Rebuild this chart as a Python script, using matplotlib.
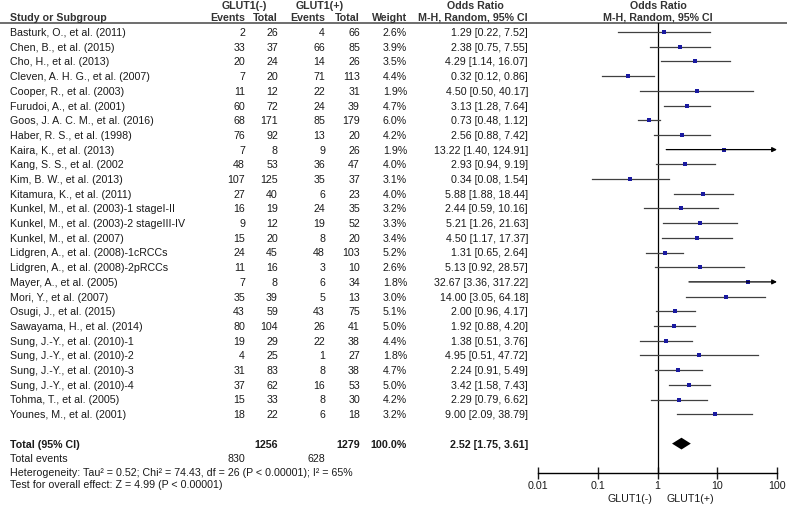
import numpy as np
import matplotlib.pyplot as plt

plt.rcParams["font.family"] = ["Liberation Sans", "DejaVu Sans"]
plt.rcParams["font.size"] = 7.7

studies = [
    "Basturk, O., et al. (2011)", "Chen, B., et al. (2015)", "Cho, H., et al. (2013)",
    "Cleven, A. H. G., et al. (2007)", "Cooper, R., et al. (2003)", "Furudoi, A., et al. (2001)",
    "Goos, J. A. C. M., et al. (2016)", "Haber, R. S., et al. (1998)", "Kaira, K., et al. (2013)",
    "Kang, S. S., et al. (2002", "Kim, B. W., et al. (2013)", "Kitamura, K., et al. (2011)",
    "Kunkel, M., et al. (2003)-1 stageI-II", "Kunkel, M., et al. (2003)-2 stageIII-IV",
    "Kunkel, M., et al. (2007)", "Lidgren, A., et al. (2008)-1cRCCs",
    "Lidgren, A., et al. (2008)-2pRCCs", "Mayer, A., et al. (2005)", "Mori, Y., et al. (2007)",
    "Osugi, J., et al. (2015)", "Sawayama, H., et al. (2014)", "Sung, J.-Y., et al. (2010)-1",
    "Sung, J.-Y., et al. (2010)-2", "Sung, J.-Y., et al. (2010)-3", "Sung, J.-Y., et al. (2010)-4",
    "Tohma, T., et al. (2005)", "Younes, M., et al. (2001)",
]
events_neg = [2, 33, 20, 7, 11, 60, 68, 76, 7, 48, 107, 27, 16, 9, 15, 24, 11, 7, 35, 43, 80, 19, 4, 31, 37, 15, 18]
total_neg = [26, 37, 24, 20, 12, 72, 171, 92, 8, 53, 125, 40, 19, 12, 20, 45, 16, 8, 39, 59, 104, 29, 25, 83, 62, 33, 22]
events_pos = [4, 66, 14, 71, 22, 24, 85, 13, 9, 36, 35, 6, 24, 19, 8, 48, 3, 6, 5, 43, 26, 22, 1, 8, 16, 8, 6]
total_pos = [66, 85, 26, 113, 31, 39, 179, 20, 26, 47, 37, 23, 35, 52, 20, 103, 10, 34, 13, 75, 41, 38, 27, 38, 53, 30, 18]
weights = [2.6, 3.9, 3.5, 4.4, 1.9, 4.7, 6.0, 4.2, 1.9, 4.0, 3.1, 4.0, 3.2, 3.3, 3.4, 5.2, 2.6, 1.8, 3.0, 5.1, 5.0, 4.4, 1.8, 4.7, 5.0, 4.2, 3.2]
odds = [1.29, 2.38, 4.29, 0.32, 4.50, 3.13, 0.73, 2.56, 13.22, 2.93, 0.34, 5.88, 2.44, 5.21, 4.50, 1.31, 5.13, 32.67, 14.00, 2.00, 1.92, 1.38, 4.95, 2.24, 3.42, 2.29, 9.00]
ci_low = [0.22, 0.75, 1.14, 0.12, 0.50, 1.28, 0.48, 0.88, 1.40, 0.94, 0.08, 1.88, 0.59, 1.26, 1.17, 0.65, 0.92, 3.36, 3.05, 0.96, 0.88, 0.51, 0.51, 0.91, 1.58, 0.79, 2.09]
ci_high = [7.52, 7.55, 16.07, 0.86, 40.17, 7.64, 1.12, 7.42, 124.91, 9.19, 1.54, 18.44, 10.16, 21.63, 17.37, 2.64, 28.57, 317.22, 64.18, 4.17, 4.20, 3.76, 47.72, 5.49, 7.43, 6.62, 38.79]

sum_total_neg, sum_total_pos = 1256, 1279
sum_events_neg, sum_events_pos = 830, 628
pooled_or, pooled_low, pooled_high = 2.52, 1.75, 3.61
ticks = [0.01, 0.1, 1, 10, 100]
tick_labels = ["0.01", "0.1", "1", "10", "100"]

W, H = 787, 506
y0, rh = 33, 14.7


def row(py):
    return (py - y0) / rh


fig = plt.figure(figsize=(W / 100, H / 100), dpi=100)
ax = fig.add_axes([0, 0, 1, 1])
ax.set_xlim(0, W)
ax.set_ylim(row(H), row(0))
ax.axis("off")

txt = "#1a1a1a"
hdr = dict(fontweight="bold", color="#333333", va="center")

# headers
ax.text(244, row(6), "GLUT1(-)", ha="center", **hdr)
ax.text(320, row(6), "GLUT1(+)", ha="center", **hdr)
ax.text(475, row(6), "Odds Ratio", ha="center", **hdr)
ax.text(658, row(6), "Odds Ratio", ha="center", **hdr)
ax.text(10, row(17.5), "Study or Subgroup", ha="left", **hdr)
ax.text(245, row(17.5), "Events", ha="right", **hdr)
ax.text(278, row(17.5), "Total", ha="right", **hdr)
ax.text(325, row(17.5), "Events", ha="right", **hdr)
ax.text(360, row(17.5), "Total", ha="right", **hdr)
ax.text(407, row(17.5), "Weight", ha="right", **hdr)
ax.text(528, row(17.5), "M-H, Random, 95% CI", ha="right", **hdr)
ax.text(658, row(17.5), "M-H, Random, 95% CI", ha="center", **hdr)
ax.plot([0, W], [row(24), row(24)], color="#555555", lw=1.2)

for i, s in enumerate(studies):
    ax.text(10, i, s, ha="left", va="center", color=txt)
    ax.text(245, i, str(events_neg[i]), ha="right", va="center", color=txt)
    ax.text(278, i, str(total_neg[i]), ha="right", va="center", color=txt)
    ax.text(325, i, str(events_pos[i]), ha="right", va="center", color=txt)
    ax.text(360, i, str(total_pos[i]), ha="right", va="center", color=txt)
    ax.text(407, i, f"{weights[i]:.1f}%", ha="right", va="center", color=txt)
    ax.text(528, i, f"{odds[i]:.2f} [{ci_low[i]:.2f}, {ci_high[i]:.2f}]",
            ha="right", va="center", color=txt)

tr = len(studies) + 1
bold = dict(fontweight="bold", color=txt, va="center")
ax.text(10, tr, "Total (95% CI)", ha="left", **bold)
ax.text(278, tr, str(sum_total_neg), ha="right", **bold)
ax.text(360, tr, str(sum_total_pos), ha="right", **bold)
ax.text(407, tr, "100.0%", ha="right", **bold)
ax.text(528, tr, f"{pooled_or:.2f} [{pooled_low:.2f}, {pooled_high:.2f}]", ha="right", **bold)
ax.text(10, tr + 1, "Total events", ha="left", va="center", color=txt)
ax.text(245, tr + 1, str(sum_events_neg), ha="right", va="center", color=txt)
ax.text(325, tr + 1, str(sum_events_pos), ha="right", va="center", color=txt)
ax.text(10, row(473), "Heterogeneity: Tau\u00b2 = 0.52; Chi\u00b2 = 74.43, df = 26 (P < 0.00001); I\u00b2 = 65%",
        ha="left", va="center", color=txt)
ax.text(10, row(485), "Test for overall effect: Z = 4.99 (P < 0.00001)",
        ha="left", va="center", color=txt)

# forest panel
axf = fig.add_axes([538 / W, (H - 474) / H, (777 - 538) / W, (474 - 24) / H])
axf.patch.set_alpha(0)
axf.set_xscale("log")
axf.set_xlim(0.01, 100)
axf.set_ylim(row(474), row(24))
for sp in ["top", "left", "right"]:
    axf.spines[sp].set_visible(False)
axf.spines["bottom"].set_linewidth(1.0)
axf.set_yticks([])
axf.set_xticks(ticks)
axf.set_xticklabels(tick_labels)
axf.minorticks_off()
axf.tick_params(axis="x", direction="inout", length=8, width=1.0, pad=1, labelsize=7.7, colors=txt)
axf.axvline(1, color="black", lw=0.9)

for i in range(len(studies)):
    hi = min(ci_high[i], 100)
    if ci_high[i] > 100:
        axf.annotate("", xy=(100, i), xytext=(ci_low[i], i),
                     arrowprops=dict(arrowstyle="-|>", color="black", lw=0.9,
                                     mutation_scale=7, shrinkA=0, shrinkB=0))
    else:
        axf.plot([ci_low[i], hi], [i, i], color="#404040", lw=0.9)
    axf.plot(odds[i], i, "s", color="#1a1aa0", ms=2.2, mew=0)

dh = 0.4
axf.fill([pooled_low, pooled_or, pooled_high, pooled_or],
         [tr, tr - dh, tr, tr + dh], color="black", lw=0)

axf.text(0.82, row(499), "GLUT1(-)", ha="right", va="center", color=txt, clip_on=False)
axf.text(1.4, row(499), "GLUT1(+)", ha="left", va="center", color=txt, clip_on=False)

fig.savefig("out.png", dpi=100)
